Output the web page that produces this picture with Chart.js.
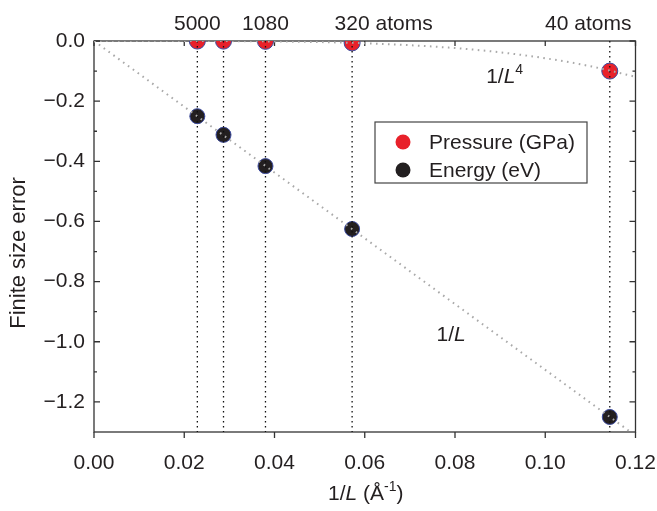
<!DOCTYPE html>
<html>
<head>
<meta charset="utf-8">
<script src="https://cdn.jsdelivr.net/npm/chart.js@4.4.1/dist/chart.umd.min.js"></script>
<style>
  body { margin: 0; background: #fff; }
  #wrap { width: 657px; height: 511px; }
</style>
</head>
<body>
<div id="wrap"><canvas id="sizeChart" width="657" height="511"></canvas></div>
<script>
// Data
const atomLabels = ["5000", "", "1080", "320 atoms", "40 atoms"];
const invL = [0.0229, 0.0287, 0.038, 0.0572, 0.1143];
const pressure = [-0.0002, -0.0004, -0.0012, -0.0062, -0.1];
const energy = [-0.25, -0.312, -0.416, -0.625, -1.25];

// fitted curves (dotted grey)
const fitLX = [0, 0.12];
const fitLY = [0, -1.312];
const fitL4X = [0, 0.02, 0.04, 0.06, 0.08, 0.09, 0.1, 0.11, 0.12];
const fitL4Y = [0, -0.0001, -0.0015, -0.0074, -0.0235, -0.0376, -0.0574, -0.0839, -0.119];

// axes
const xTicks = [0, 0.02, 0.04, 0.06, 0.08, 0.1, 0.12];
const yTicks = [0, -0.2, -0.4, -0.6, -0.8, -1.0, -1.2];
const yMinor = [-0.1, -0.3, -0.5, -0.7, -0.9, -1.1];
const xMin = 0, xMax = 0.12, yMin = -1.3, yMax = 0;

const FONT = "'Liberation Sans', Arial, sans-serif";
const SIZE = 21;
const INK = "#231f20";
Chart.defaults.font.family = FONT;
Chart.defaults.color = INK;

function zip(xs, ys) {
  return xs.map((x, i) => ({ x: x, y: ys[i] }));
}

// draw a string made of parts (italic / superscript)
function drawParts(ctx, parts, x, y, align) {
  let total = 0;
  parts.forEach((p) => {
    ctx.font = (p.italic ? "italic " : "") + (p.sup ? 14 : SIZE) + "px " + FONT;
    p.w = ctx.measureText(p.t).width;
    total += p.w;
  });
  let cx = align === "center" ? x - total / 2 : x;
  ctx.textAlign = "left";
  ctx.textBaseline = "alphabetic";
  parts.forEach((p) => {
    ctx.font = (p.italic ? "italic " : "") + (p.sup ? 14 : SIZE) + "px " + FONT;
    ctx.fillText(p.t, cx, p.sup ? y - 9 : y);
    cx += p.w;
  });
}

// frame and inward ticks, drawn under the markers
const framePlugin = {
  id: "frame",
  beforeDatasetsDraw(chart) {
    const { ctx, chartArea: { left, right, top, bottom }, scales: { x, y } } = chart;
    ctx.save();
    ctx.strokeStyle = "#333";
    ctx.lineWidth = 1.3;
    ctx.strokeRect(left, top, right - left, bottom - top);
    ctx.beginPath();
    xTicks.forEach((v) => {
      const px = x.getPixelForValue(v);
      ctx.moveTo(px, bottom);
      ctx.lineTo(px, bottom + 6);
      ctx.moveTo(px, top);
      ctx.lineTo(px, top + 5);
    });
    yTicks.forEach((v) => {
      const py = y.getPixelForValue(v);
      ctx.moveTo(left, py);
      ctx.lineTo(left + 6, py);
      ctx.moveTo(right, py);
      ctx.lineTo(right - 6, py);
    });
    yMinor.forEach((v) => {
      const py = y.getPixelForValue(v);
      ctx.moveTo(left, py);
      ctx.lineTo(left + 3, py);
      ctx.moveTo(right, py);
      ctx.lineTo(right - 3, py);
    });
    ctx.stroke();
    ctx.restore();
  },
};

// labels, titles, legend
const textPlugin = {
  id: "texts",
  afterDatasetsDraw(chart) {
    const { ctx, chartArea: { left, right, top, bottom }, scales: { x, y } } = chart;
    ctx.save();
    ctx.fillStyle = INK;

    // atom counts above the plot
    ctx.font = SIZE + "px " + FONT;
    ctx.textBaseline = "alphabetic";
    atomLabels.forEach((lab, i) => {
      if (!lab) return;
      const px = x.getPixelForValue(invL[i]);
      if (i === atomLabels.length - 1) {
        ctx.textAlign = "right";
        ctx.fillText(lab, right - 4, 30);
      } else {
        const num = lab.split(" ")[0];
        ctx.textAlign = "left";
        ctx.fillText(lab, px - ctx.measureText(num).width / 2, 30);
      }
    });

    // curve annotations
    drawParts(ctx, [{ t: "1/" }, { t: "L", italic: true }, { t: "4", sup: true }],
      x.getPixelForValue(0.0869), y.getPixelForValue(-0.138), "left");
    drawParts(ctx, [{ t: "1/" }, { t: "L", italic: true }],
      x.getPixelForValue(0.0759), y.getPixelForValue(-0.996), "left");

    // x title
    drawParts(ctx, [{ t: "1/" }, { t: "L", italic: true }, { t: " (Å" }, { t: "-1", sup: true }, { t: ")" }],
      (left + right) / 2 + 1, 500, "center");

    // y title
    ctx.save();
    ctx.translate(25, 253);
    ctx.rotate(-Math.PI / 2);
    ctx.font = "22px " + FONT;
    ctx.textAlign = "center";
    ctx.textBaseline = "alphabetic";
    ctx.fillText("Finite size error", 0, 0);
    ctx.restore();

    // legend box
    const bx = 375, by = 122, bw = 212, bh = 61;
    ctx.fillStyle = "#fff";
    ctx.fillRect(bx, by, bw, bh);
    ctx.strokeStyle = "#444";
    ctx.lineWidth = 1.2;
    ctx.strokeRect(bx, by, bw, bh);
    [0, 1].forEach((i) => {
      const ds = chart.data.datasets[i];
      const cy = by + 20 + i * 28;
      ctx.beginPath();
      ctx.arc(bx + 28, cy, 7.5, 0, Math.PI * 2);
      ctx.fillStyle = ds.backgroundColor;
      ctx.fill();
      ctx.fillStyle = INK;
      ctx.font = SIZE + "px " + FONT;
      ctx.textAlign = "left";
      ctx.textBaseline = "middle";
      ctx.fillText(ds.label, bx + 54, cy + 1);
    });
    ctx.restore();
  },
};

const guideSets = invL.map((v) => ({
  type: "line",
  data: [{ x: v, y: yMax }, { x: v, y: yMin }],
  borderColor: "#111",
  borderWidth: 1.3,
  borderDash: [1.5, 3.5],
  pointRadius: 0,
  order: 2,
}));

new Chart(document.getElementById("sizeChart"), {
  type: "scatter",
  data: {
    datasets: [
      {
        label: "Pressure (GPa)",
        data: zip(invL, pressure),
        backgroundColor: "#e8212a",
        borderColor: "#3b4a9e",
        borderWidth: 1,
        pointRadius: 8,
        order: 3,
      },
      {
        label: "Energy (eV)",
        data: zip(invL, energy),
        backgroundColor: "#231f20",
        borderColor: "#3b4a9e",
        borderWidth: 1,
        pointRadius: 7.5,
        order: 3,
      },
      {
        type: "line",
        data: zip(fitLX, fitLY),
        borderColor: "#a9a9a9",
        borderWidth: 2,
        borderDash: [1.6, 4.4],
        pointRadius: 0,
        order: 1,
      },
      {
        type: "line",
        data: zip(fitL4X, fitL4Y),
        borderColor: "#a9a9a9",
        borderWidth: 2,
        borderDash: [1.6, 4.4],
        cubicInterpolationMode: "monotone",
        pointRadius: 0,
        order: 1,
      },
      ...guideSets,
    ],
  },
  options: {
    responsive: false,
    animation: false,
    layout: {
      padding: { left: 0, top: 41, right: 21.5, bottom: 0 },
    },
    plugins: {
      legend: { display: false },
      tooltip: { enabled: false },
    },
    scales: {
      x: {
        type: "linear",
        min: xMin,
        max: xMax,
        afterBuildTicks: (scale) => {
          scale.ticks = xTicks.map((v) => ({ value: v }));
        },
        afterFit: (scale) => {
          scale.height = 79;
          scale.paddingLeft = 0;
          scale.paddingRight = 0;
        },
        ticks: {
          callback: (v) => v.toFixed(2),
          font: { size: SIZE },
          color: INK,
          padding: 19,
          maxRotation: 0,
        },
        grid: { display: false, drawTicks: false },
        border: { display: false },
      },
      y: {
        type: "linear",
        min: yMin,
        max: yMax,
        afterBuildTicks: (scale) => {
          scale.ticks = yTicks.map((v) => ({ value: v }));
        },
        afterFit: (scale) => {
          scale.width = 94;
          scale.paddingTop = 0;
          scale.paddingBottom = 0;
        },
        ticks: {
          callback: (v) => (v === 0 ? "0.0" : "\u2212" + Math.abs(v).toFixed(1)),
          font: { size: SIZE },
          color: INK,
          padding: 9,
        },
        grid: { display: false, drawTicks: false },
        border: { display: false },
      },
    },
  },
  plugins: [framePlugin, textPlugin],
});
</script>
</body>
</html>
